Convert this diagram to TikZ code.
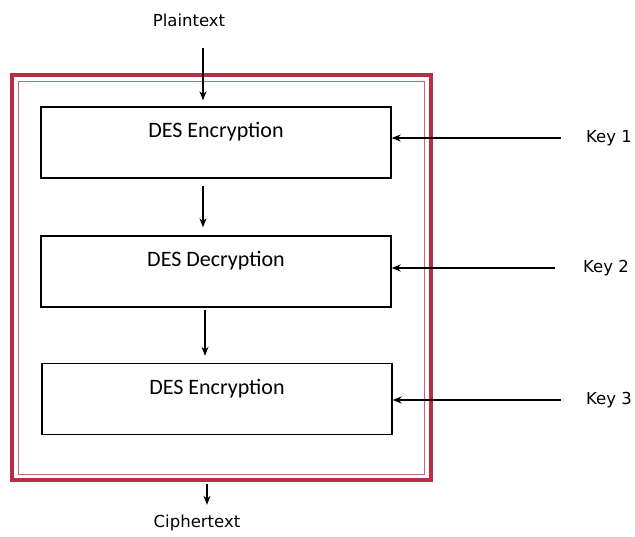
\documentclass[tikz,border=0pt]{standalone}
\usepackage{fontspec}
\setmainfont{Carlito}
\newfontfamily\labelfont{DejaVu Sans}
\usetikzlibrary{arrows.meta,calc,positioning}
\definecolor{framered}{RGB}{185,45,70}
\definecolor{framepink}{RGB}{205,100,120}

\begin{document}
\begin{tikzpicture}[x=1pt,y=-1pt]
	\tikzstyle{every node}=[inner sep=0pt]
	\tikzstyle{desbox}=[draw, line width=1.4pt, minimum width=350pt, minimum height=71pt,
		font=\fontsize{22}{24}\selectfont, text height=15pt, text depth=25pt]
	\tikzstyle{lbl}=[font=\labelfont\fontsize{16.5}{18}\selectfont]
	\tikzstyle{arr}=[line width=1.2pt, -{Stealth[length=9pt,width=7pt]}]
	\useasboundingbox (0,0) rectangle (635,536);
	% frame
	\draw [framered, line width=4pt] (12,75) rectangle (431,480);
	\draw [framepink, line width=1pt] (18,81) rectangle (424,474);
	% boxes
	\node [desbox] (enc1) at (216,142.5) {DES Encryption};
	\node [desbox] (dec) at (216,271.5) {DES Decryption};
	\node [desbox] (enc2) at (217,399) {DES Encryption};
	% labels
	\node [lbl] (plain) at (189,20) {Plaintext};
	\node [lbl] (cipher) at (197,523) {Ciphertext};
	\node [lbl] (key1) at (609,138) {Key 1};
	\node [lbl] (key2) at (606,268) {Key 2};
	\node [lbl] (key3) at (609,400) {Key 3};
	\coordinate (pin) at (203,48);
	\coordinate (pout) at (207,484);
	% arrows
	\draw [arr, shorten >=6pt] (pin) -- (pin |- enc1.north);
	\draw [arr, shorten <=7pt, shorten >=8pt] ([xshift=-13pt]enc1.south) -- ([xshift=-13pt]dec.north);
	\draw [arr, shorten <=2pt, shorten >=7pt] ([xshift=-11pt]dec.south) -- ([xshift=-12pt]enc2.north);
	\draw [arr, shorten >=10pt] (pout) -- (pout |- cipher.north);
	\draw [arr, shorten <=25pt] (key1.west) -- (key1.west -| enc1.east);
	\draw [arr, shorten <=28pt] (key2.west) -- (key2.west -| dec.east);
	\draw [arr, shorten <=25pt] (key3.west) -- (key3.west -| enc2.east);
\end{tikzpicture}
\end{document}
